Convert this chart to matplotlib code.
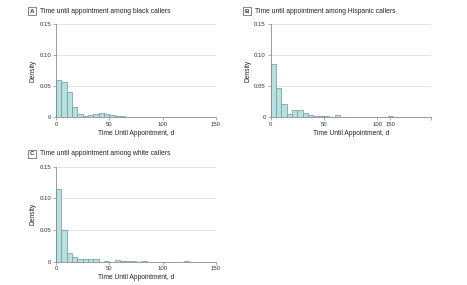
import numpy as np
import matplotlib
matplotlib.use("Agg")
import matplotlib.pyplot as plt
from matplotlib.ticker import FuncFormatter

# bin width 5 days, densities
bin_width = 5
density_black = [0.059, 0.056, 0.040, 0.016, 0.005, 0.0015, 0.003, 0.005, 0.0065, 0.005, 0.003, 0.0015, 0.0015]
density_hispanic = [0.086, 0.047, 0.021, 0.005, 0.0115, 0.0115, 0.0065, 0.004, 0.002, 0.0027, 0.002, 0, 0.004,
                    0, 0, 0, 0, 0, 0, 0, 0, 0, 0.0015]
density_white = [0.114, 0.050, 0.013, 0.0072, 0.004, 0.004, 0.004, 0.004, 0, 0.0015, 0, 0.003, 0.0015, 0.0015,
                 0.0015, 0, 0.0015, 0, 0, 0, 0, 0, 0, 0, 0.0015]

panel_letters = ["A", "B", "C"]
panel_titles = ["Time until appointment among black callers",
                "Time until appointment among Hispanic callers",
                "Time until appointment among white callers"]
x_label = "Time Until Appointment, d"
y_label = "Density"
y_ticks = [0, 0.05, 0.10, 0.15]

plt.rcParams['font.family'] = ['Liberation Sans Narrow', 'Liberation Sans', 'DejaVu Sans']

fill_color = '#b8e0e0'
edge_color = '#6a9a9a'
spine_color = '#8a8a8a'
grid_color = '#dedede'

fig = plt.figure(figsize=(4.67, 2.85), dpi=100)
W, H = 467, 285


def make_axes(x0, x1, ytop, ybot):
    return fig.add_axes([x0 / W, (H - ybot) / H, (x1 - x0) / W, (ybot - ytop) / H])


axes = [make_axes(56, 216, 23.7, 117.3),
        make_axes(270.7, 430.7, 23.7, 117.3),
        make_axes(56, 216, 166.7, 261.5)]
datasets = [density_black, density_hispanic, density_white]

for ax, dens, letter, title in zip(axes, datasets, panel_letters, panel_titles):
    dens = np.array(dens)
    lefts = np.arange(len(dens)) * bin_width
    mask = dens > 0
    ax.bar(lefts[mask], dens[mask], width=bin_width, align='edge',
           color=fill_color, edgecolor=edge_color, linewidth=0.5, zorder=2)
    ax.set_xlim(0, 150)
    ax.set_ylim(0, 0.15)
    ax.set_yticks(y_ticks)
    ax.yaxis.set_major_formatter(FuncFormatter(lambda v, p: '0' if v == 0 else f'{v:.2f}'))
    ax.grid(axis='y', color=grid_color, linewidth=0.6, zorder=0)
    for s in ['top', 'right']:
        ax.spines[s].set_visible(False)
    for s in ['left', 'bottom']:
        ax.spines[s].set_color(spine_color)
        ax.spines[s].set_linewidth(0.6)
    ax.tick_params(labelsize=4.3, length=2, width=0.5, color=spine_color, pad=1.5, labelcolor='#333333')
    ax.set_xlabel(x_label, fontsize=4.8, labelpad=2, color='#222222')
    ax.set_ylabel(y_label, fontsize=4.8, labelpad=2, color='#222222')
    ax.text(-0.15, 1.135, letter, transform=ax.transAxes, fontsize=4.4, fontweight='bold',
            ha='center', va='center', color='#333333',
            bbox=dict(boxstyle='square,pad=0.3', fc='white', ec='#555555', lw=0.5))
    ax.text(-0.1, 1.135, title, transform=ax.transAxes, fontsize=4.9, ha='left', va='center',
            color='#222222')

axes[0].set_xticks([0, 50, 100, 150])
axes[2].set_xticks([0, 50, 100, 150])
# panel B has its "150" label sitting left of the axis end, as in the source
axes[1].set_xticks([0, 50, 100, 112, 150])
axes[1].set_xticklabels(['0', '50', '100', '150', ''])

fig.savefig('out.png', dpi=100)
